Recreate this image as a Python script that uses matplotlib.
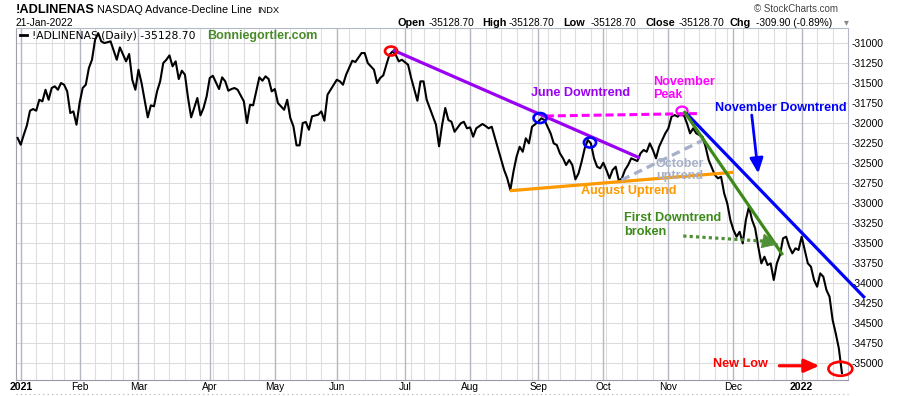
import numpy as np
import pandas as pd
import matplotlib
matplotlib.use("Agg")
import matplotlib.pyplot as plt
from matplotlib.patches import Ellipse
from matplotlib.lines import Line2D

# ---------------- data ----------------
holidays = ["2021-01-01", "2021-01-18", "2021-02-15", "2021-04-02", "2021-05-31",
            "2021-07-05", "2021-09-06", "2021-11-25", "2021-12-24", "2022-01-17"]

# trading-session number (0 = 4-Jan-2021) of each traced vertex of the A/D line
session = [-1, 0, 1, 2, 3, 4, 5, 6, 7, 8, 9, 10, 11, 12, 13, 14, 15, 16, 17, 18,
           19, 20, 21, 22, 23, 24, 25, 26, 27, 29, 31, 32, 34, 35, 36, 37, 38, 39, 41, 42,
           43, 44, 45, 46, 47, 48, 49, 50, 51, 52, 53, 54, 55, 57, 58, 59, 60, 61, 62, 64,
           65, 66, 67, 68, 69, 70, 72, 73, 74, 75, 77, 78, 79, 80, 81, 82, 83, 85, 86, 87,
           88, 89, 90, 91, 92, 93, 94, 96, 97, 98, 99, 100, 102, 103, 104, 105, 107, 108, 110, 111,
           112, 114, 115, 116, 117, 118, 119, 120, 121, 122, 123, 125, 126, 128, 129, 130, 131, 133, 134, 135,
           136, 137, 138, 139, 140, 142, 143, 144, 145, 146, 147, 149, 150, 151, 152, 154, 156, 157, 158, 159,
           160, 161, 162, 163, 164, 165, 167, 168, 169, 170, 171, 172, 173, 174, 175, 176, 177, 178, 179, 180,
           181, 182, 183, 184, 185, 186, 187, 188, 189, 190, 191, 192, 193, 194, 195, 196, 197, 199, 200, 201,
           202, 203, 204, 205, 206, 208, 209, 210, 211, 212, 213, 214, 215, 216, 217, 218, 220, 221, 222, 224,
           225, 226, 227, 228, 229, 230, 231, 232, 233, 234, 235, 236, 237, 238, 239, 240, 241, 242, 243, 244,
           245, 246, 247, 248, 249, 250, 251, 252, 254, 255, 256, 257, 258, 259, 260, 261, 262, 263, 264, 265]

adl = [-32191, -32275, -32150, -32033, -31850, -31829, -31850, -31713, -31733, -31588,
       -31713, -31566, -31545, -31588, -31504, -31525, -31608, -31879, -31858, -32025,
       -31754, -31566, -31525, -31316, -31213, -30963, -30880, -30983, -31004, -30983,
       -31213, -31058, -31233, -31141, -31463, -31588, -31338, -31504, -31933, -31783,
       -31795, -31608, -31483, -31254, -31213, -31158, -31295, -31233, -31454, -31350,
       -31400, -31691, -31933, -31691, -31908, -31816, -31670, -31441, -31413, -31579,
       -31433, -31483, -31600, -31579, -31566, -31588, -31733, -32004, -31775, -31783,
       -31433, -31475, -31420, -31454, -31608, -31579, -31754, -31838, -31713, -31941,
       -32045, -32283, -32283, -32004, -31991, -32088, -31920, -31900, -31858, -31975,
       -31650, -31588, -31463, -31483, -31525, -31400, -31225, -31241, -31129, -31129,
       -31254, -31338, -31504, -31441, -31408, -31275, -31150, -31108, -31150, -31233,
       -31213, -31275, -31441, -31725, -31483, -31483, -31713, -31920, -32025, -32295,
       -32025, -31816, -31966, -31988, -32113, -32008, -31988, -32070, -32058, -32175,
       -32070, -32016, -32041, -32070, -32050, -32320, -32591, -32695, -32841, -32613,
       -32425, -32300, -32363, -32195, -32258, -32050, -31988, -31945, -31966, -32050,
       -32133, -32258, -32279, -32383, -32445, -32529, -32466, -32529, -32708, -32633,
       -32488, -32320, -32216, -32258, -32445, -32550, -32570, -32500, -32591, -32695,
       -32591, -32550, -32725, -32695, -32591, -32529, -32445, -32479, -32383, -32341,
       -32363, -32258, -32341, -32445, -32300, -32133, -32070, -31925, -31904, -31925,
       -31883, -31904, -32008, -32133, -32070, -32133, -32175, -32300, -32466, -32654,
       -32695, -32675, -32883, -33008, -33216, -33341, -33425, -33363, -33508, -33216,
       -33050, -33216, -33320, -33550, -33758, -33675, -33779, -33758, -33966, -33758,
       -33654, -33445, -33425, -33550, -33633, -33570, -33591, -33425, -33758, -33800,
       -33966, -34050, -33883, -33925, -34091, -34175, -34466, -34633, -34819, -35128.70]

last_change = -309.90
y_ticks = list(range(-35000, -30999, 250))
month_labels = ["2021", "Feb", "Mar", "Apr", "May", "Jun", "Jul", "Aug", "Sep",
                "Oct", "Nov", "Dec", "2022"]

# ---------------- calendar (trading sessions) ----------------
calendar = pd.bdate_range("2020-12-31", "2022-01-21", freq="C", holidays=holidays)
cal = pd.DataFrame({"date": calendar, "sess": np.arange(len(calendar)) - 1})
cal = cal[cal.date >= "2021-01-01"]
month_first = cal.groupby([cal.date.dt.year, cal.date.dt.month]).sess.first().values
week_first = cal.groupby(cal.date.dt.to_period("W")).sess.first().values

# ---------------- figure ----------------
W, H = 900, 396
fig = plt.figure(figsize=(W / 100, H / 100), dpi=100)
fig.patch.set_facecolor("white")
L, R, T, B = 16, 848, 28, 380
ax = fig.add_axes([L / W, (H - B) / H, (R - L) / W, (B - T) / H])
ax.set_xlim(-1.52, 266.96)
ax.set_ylim(-35216, -30816)

SANS = "Liberation Sans"

# grid
for v in y_ticks:
    ax.axhline(v, color="#dcdcdc", lw=0.8, zorder=0)
for s in week_first:
    ax.axvline(s, color="#dedede", lw=0.8, zorder=0)
for s in month_first:
    ax.axvline(s, color="#b4b8c2", lw=1.0, zorder=0.5)

# main line
ax.plot(session, adl, color="black", lw=1.5, zorder=5)

# ticks
ax.set_xticks(month_first)
ax.set_xticklabels(month_labels, fontfamily=SANS, fontsize=7.3)
for lab in ax.get_xticklabels():
    if lab.get_text() in ("2021", "2022"):
        lab.set_fontweight("bold")
        lab.set_fontsize(7.6)
ax.tick_params(axis="x", length=0, pad=1.5, colors="black")
ax.yaxis.tick_right()
ax.set_yticks(y_ticks)
ax.set_yticklabels([f"{v}" for v in y_ticks], fontfamily=SANS, fontsize=7.4)
ax.tick_params(axis="y", length=0, pad=2.2)

ax.spines["left"].set_color("#a0a0a8")
for side in ("right", "top"):
    ax.spines[side].set_color("#b4b8c8")
ax.spines["bottom"].set_color("#9a9aa4")
ax.spines["bottom"].set_linestyle((0, (1, 1)))
fig.add_artist(Line2D([L / W, R / W], [1 - 393.5 / H] * 2, color="#b0b0b8",
                      lw=0.8, ls=(0, (1, 3))))

# ---------------- annotations ----------------
BOLD = dict(fontfamily=SANS, fontweight="bold", fontsize=9.1)
purple, magenta, blue = "#9a00f2", "#ff00ff", "#0000ff"
orange, green, greyblue, red = "#ff9900", "#3c8a1a", "#a6b0ca", "#ff0000"

# June downtrend
ax.plot([120.1, 199.8], [-31091, -32441], color=purple, lw=2.3, zorder=6, solid_capstyle="butt")
ax.text(180.5, -31629, "June Downtrend", color=purple, ha="center", va="center", **BOLD, zorder=8)
ax.add_patch(Ellipse((119.5, -31104), 3.9, 112, fill=False, ec=red, lw=1.9, zorder=7))
ax.add_patch(Ellipse((167.6, -31941), 4.2, 125, fill=False, ec=blue, lw=1.9, zorder=7))
ax.add_patch(Ellipse((183.7, -32248), 3.9, 125, fill=False, ec=blue, lw=1.9, zorder=7))

# November peak level
ax.plot([169.5, 219.2], [-31916, -31885], color=magenta, lw=2.2, ls=(0, (2.6, 1.3)), zorder=6)
ax.add_patch(Ellipse((213.4, -31854), 3.6, 112, fill=False, ec=magenta, lw=1.6, zorder=4))
ax.text(204.0, -31416, "November\nPeak", color=magenta, ha="left", va="top",
        linespacing=1.15, **BOLD, zorder=8)

# August uptrend
ax.plot([157.9, 229.9], [-32850, -32620], color=orange, lw=2.3, zorder=6, solid_capstyle="butt")
ax.text(196.3, -32854, "August Uptrend", color=orange, ha="center", va="center", **BOLD, zorder=8)

# October uptrend
ax.plot([193.9, 220.3], [-32716, -32216], color=greyblue, lw=2.4, ls=(0, (2.6, 1.6)), zorder=6)
ax.text(205.0, -32441, "October\nuptrend", color=greyblue, ha="left", va="top",
        linespacing=1.0, **BOLD, zorder=7)

# November downtrend
ax.plot([214.7, 272.4], [-31879, -34191], color=blue, lw=2.3, zorder=6, clip_on=False,
        solid_capstyle="butt")
ax.text(224.0, -31810, "November Downtrend", color=blue, ha="left", va="center", **BOLD,
        zorder=8, clip_on=False)
ax.annotate("", xy=(238.0, -32633), xytext=(235.9, -31904),
            arrowprops=dict(arrowstyle="-|>,head_length=0.9,head_width=0.4", color=blue,
                            lw=2.0, shrinkA=0, shrinkB=0), zorder=8)

# First downtrend
ax.plot([214.0, 245.9], [-31854, -33654], color=green, lw=2.3, zorder=6, solid_capstyle="butt")
ax.text(194.7, -33113, "First Downtrend\nbroken", color=green, ha="left", va="top",
        linespacing=1.2, **BOLD, zorder=8)
ax.plot([213.8, 240.0], [-33416, -33481], color="#4f8f35", lw=2.3, ls=(0, (1, 1)), zorder=6)
ax.annotate("", xy=(244.5, -33520), xytext=(239.5, -33478),
            arrowprops=dict(arrowstyle="-|>,head_length=1.1,head_width=0.5", color="#4f8f35",
                            lw=0.5, shrinkA=0, shrinkB=0), zorder=7)

# New low
ax.text(232.3, -35016, "New Low", color=red, ha="center", va="center", **BOLD, zorder=8)
ax.annotate("", xy=(257.7, -35038), xytext=(244.8, -35038),
            arrowprops=dict(arrowstyle="-|>,head_length=0.9,head_width=0.4", color=red,
                            lw=2.3, shrinkA=0, shrinkB=0), zorder=8)
ax.add_patch(Ellipse((264.5, -35076), 7.7, 175, fill=False, ec=red, lw=1.9, zorder=7,
                     clip_on=False))

# legend inside plot
fig.add_artist(Line2D([20 / W, 27 / W], [1 - 35.2 / H] * 2, color="black", lw=2.0))
fig.text(32.3 / W, 1 - 39.2 / H, f"!ADLINENAS (Daily) {adl[-1]:.2f}", fontfamily="DejaVu Sans",
         fontsize=7.75, va="baseline", ha="left", color="black")
fig.text(206.7 / W, 1 - 39.5 / H, "Bonniegortler.com", fontfamily=SANS, fontweight="bold",
         fontsize=9.0, va="baseline", ha="left", color="#4a8a2a")

# ---------------- header ----------------
fig.text(16 / W, 1 - 13.4 / H, "!ADLINENAS", fontfamily=SANS, fontweight="bold", fontsize=9.2,
         va="baseline", ha="left")
fig.text(97.3 / W, 1 - 13.0 / H, "NASDAQ Advance-Decline Line", fontfamily=SANS, fontsize=7.8,
         va="baseline", ha="left")
fig.text(257 / W, 1 - 13.0 / H, "INDX", fontfamily=SANS, fontsize=6.7, va="baseline", ha="left")
fig.text(16 / W, 1 - 26.5 / H, "21-Jan-2022", fontfamily=SANS, fontsize=7.4, va="baseline",
         ha="left")
fig.text(838 / W, 1 - 11.6 / H, "\u00a9 StockCharts.com", fontfamily=SANS, fontsize=7.0,
         va="baseline", ha="right", color="#444444")

last = adl[-1]
pct = last_change / (last - last_change) * 100
pieces = [("Open", True, 397.3), (f"{last:.2f}", False, 428.3),
          ("High", True, 482.7), (f"{last:.2f}", False, 508.3),
          ("Low", True, 563.3), (f"{last:.2f}", False, 590.5),
          ("Close", True, 645.0), (f"{last:.2f}", False, 678.3),
          ("Chg", True, 730.0), (f"{last_change:.2f} ({-abs(pct):.2f}%)", False, 755.7)]
for txt, bold, x in pieces:
    fig.text(x / W, 1 - 26.4 / H, txt, fontfamily=SANS, fontsize=7.8 if bold else 7.3,
             fontweight="bold" if bold else "normal", va="baseline", ha="left")
fig.text(844 / W, 1 - 25.5 / H, "\u25be", fontfamily="DejaVu Sans", fontsize=7, color="#888888",
         va="baseline", ha="left")

fig.savefig("out.png", dpi=100, facecolor="white")
